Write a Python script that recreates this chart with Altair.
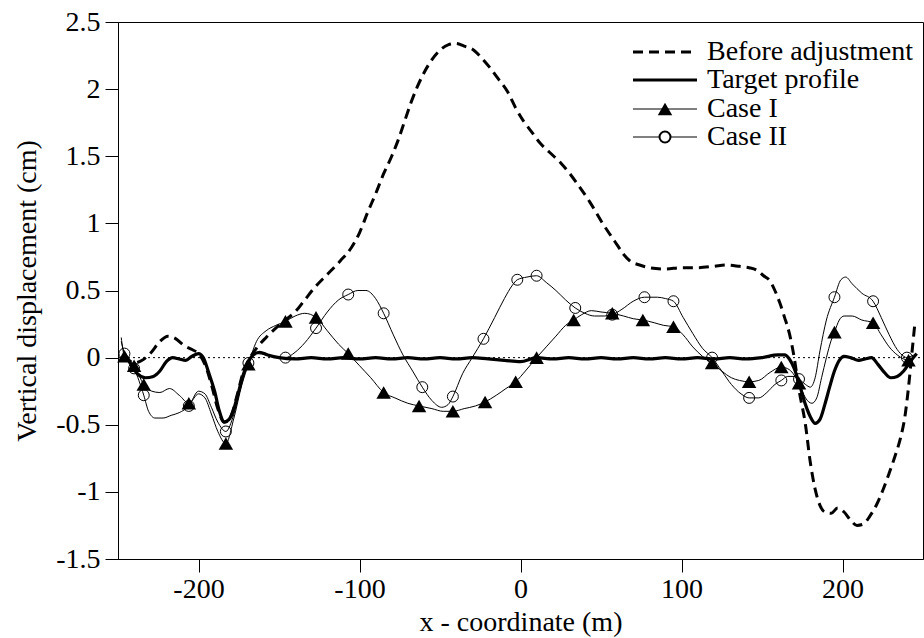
import altair as alt
import pandas as pd

# ---------------- data ----------------
before_x = [-246, -240, -235, -230, -224, -219, -214, -209, -204, -200, -196, -192, -188, -184, -180,
            -176, -172, -168, -164, -158, -152, -146, -140, -134, -128, -120, -112, -105, -100, -95,
            -90, -85, -80, -76, -72, -68, -64, -60, -55, -50, -45, -40, -35, -29, -24, -19, -14, -8,
            -3, 2, 7, 12, 18, 25, 30, 35, 43, 51, 56, 60, 64, 68, 74, 80, 90, 100, 110, 120, 128,
            136, 142, 147, 151, 155, 158, 161, 164, 167, 170, 173, 177, 180, 183, 186, 189, 193, 197,
            201, 205, 209, 213, 217, 221, 225, 229, 233, 236, 239, 241, 243, 245]
before_y = [0.02, -0.04, -0.02, 0.03, 0.12, 0.16, 0.14, 0.09, 0.06, 0.03, -0.05, -0.2, -0.38, -0.48, -0.44,
            -0.28, -0.1, 0.0, 0.07, 0.15, 0.22, 0.28, 0.34, 0.43, 0.52, 0.62, 0.72, 0.82, 0.93, 1.08,
            1.22, 1.37, 1.5, 1.62, 1.76, 1.9, 2.02, 2.12, 2.22, 2.29, 2.33, 2.34, 2.32, 2.29, 2.23, 2.16, 2.08, 1.98,
            1.86, 1.76, 1.68, 1.6, 1.53, 1.45, 1.38, 1.3, 1.16, 1.0, 0.91, 0.84, 0.77, 0.72, 0.69, 0.67, 0.66, 0.67, 0.67, 0.68, 0.69,
            0.68, 0.67, 0.65, 0.61, 0.57, 0.5, 0.41, 0.3, 0.18, 0.0, -0.24, -0.5, -0.78, -0.98, -1.1, -1.15, -1.16, -1.12,
            -1.15, -1.21, -1.25, -1.24, -1.18, -1.1, -0.99, -0.86, -0.72, -0.6, -0.42, -0.22, 0.02, 0.26]

target_x = [-246, -242, -238, -233, -228, -224, -220, -216, -212, -208, -204, -200, -197, -194, -190,
            -187, -184, -181, -178, -175, -172, -169, -166, -162, -157, -150, -140, -130, -120, -110,
            -100, -90, -80, -70, -60, -50, -40, -30, -20, -10, 0, 10, 20, 30, 40, 50, 60, 70, 80, 90,
            100, 110, 120, 130, 140, 150, 160, 164, 167, 170, 173, 177, 180, 183, 186, 189, 192, 195,
            198, 201, 205, 210, 214, 218, 222, 226, 230, 234, 238, 241, 244, 246]
target_y = [0.03, -0.05, -0.12, -0.15, -0.14, -0.1, -0.03, 0.0, -0.01, -0.02, 0.01, 0.03, 0.0, -0.1, -0.25,
            -0.4, -0.48, -0.46, -0.38, -0.25, -0.12, -0.03, 0.02, 0.04, 0.02, 0.0, -0.01, 0.0, -0.01, 0.0,
            -0.01, 0.0, -0.01, 0.0, -0.01, 0.0, -0.01, 0.0, -0.01, -0.02, -0.03, 0.0, -0.01, 0.0, -0.01, 0.0, -0.01, 0.0, -0.01, 0.0,
            -0.01, 0.0, -0.01, 0.0, -0.01, 0.0, 0.02, 0.02, -0.01, -0.08, -0.19, -0.35, -0.44, -0.49, -0.46, -0.35, -0.22, -0.1,
            -0.02, 0.01, 0.0, -0.02, -0.01, 0.0, -0.05, -0.11, -0.15, -0.14, -0.1, -0.05, 0.0, 0.03]

case1_x = [-248, -246, -240, -234, -229, -224, -218, -212, -206, -200, -196, -192, -188, -183, -178,
           -173, -169, -164, -158, -152, -146, -140, -134, -127, -120, -113, -107, -100, -93, -85,
           -78, -70, -63, -55, -48, -42, -35, -28, -22, -15, -9, -3, 3, 10, 16, 22, 28, 33, 38, 44,
           50, 57, 64, 70, 76, 83, 89, 95, 101, 107, 113, 119, 125, 131, 136, 142, 148, 155, 162,
           167, 170, 173, 177, 181, 184, 187, 190, 193, 195, 198, 201, 206, 212, 219, 224, 229, 234,
           238, 241, 244]
case1_y = [0.15, 0.01, -0.06, -0.2, -0.25, -0.26, -0.23, -0.28, -0.34, -0.27, -0.3, -0.42, -0.55, -0.64, -0.45,
           -0.2, -0.05, 0.12, 0.2, 0.24, 0.27, 0.31, 0.33, 0.3, 0.2, 0.1, 0.03, -0.06, -0.15, -0.26,
           -0.3, -0.34, -0.36, -0.38, -0.4, -0.4, -0.38, -0.36, -0.33, -0.28, -0.23, -0.18, -0.1, 0.0, 0.08, 0.16, 0.24, 0.28, 0.32, 0.35,
           0.34, 0.33, 0.31, 0.29, 0.28, 0.26, 0.24, 0.23, 0.17, 0.08, 0.01, -0.04, -0.1, -0.15, -0.17, -0.18, -0.17, -0.11, -0.07,
           -0.09, -0.13, -0.19, -0.3, -0.34, -0.3, -0.15, 0.0, 0.13, 0.19, 0.28, 0.31, 0.31, 0.28, 0.26, 0.17, 0.08, 0.02,
           -0.01, -0.02, 0.0]
case1_mx = [-246, -240, -234, -206, -183, -169, -146, -127, -107, -85, -63, -42, -22, -3, 10, 33, 57,
            76, 95, 119, 142, 162, 173, 195, 219, 241]
case1_my = [0.01, -0.06, -0.2, -0.34, -0.64, -0.05, 0.27, 0.3, 0.03, -0.26, -0.36, -0.4, -0.33, -0.18, 0.0,
            0.28, 0.33, 0.28, 0.23, -0.04, -0.18, -0.07, -0.19, 0.19, 0.26, -0.02]

case2_x = [-248, -246, -240, -234, -231, -227, -222, -217, -212, -206, -200, -196, -192, -188, -183,
           -178, -173, -169, -164, -158, -152, -146, -140, -134, -127, -120, -113, -107, -101, -96,
           -90, -85, -79, -73, -67, -61, -55, -49, -45, -42, -36, -30, -23, -16, -10, -5, -2, 4, 10,
           16, 22, 28, 34, 40, 46, 52, 57, 63, 70, 77, 85, 90, 95, 101, 107, 113, 119, 125, 131, 137,
           142, 148, 153, 158, 162, 166, 170, 173, 177, 180, 183, 186, 190, 195, 199, 202, 206, 212,
           219, 224, 229, 234, 238, 240, 244]
case2_y = [0.12, 0.03, -0.08, -0.28, -0.4, -0.45, -0.45, -0.43, -0.41, -0.36, -0.25, -0.27, -0.37, -0.48, -0.55,
           -0.42, -0.18, -0.04, 0.03, 0.02, 0.0, 0.0, 0.04, 0.11, 0.22, 0.34, 0.43, 0.47, 0.5, 0.5,
           0.44, 0.33, 0.17, 0.02, -0.1, -0.22, -0.32, -0.37, -0.35, -0.29, -0.12, 0.0, 0.14, 0.3, 0.44, 0.54, 0.58, 0.6, 0.61,
           0.56, 0.5, 0.43, 0.37, 0.33, 0.31, 0.31, 0.32, 0.36, 0.42, 0.45, 0.45, 0.44, 0.42, 0.3, 0.18, 0.07, 0.0, -0.1, -0.2, -0.27,
           -0.3, -0.3, -0.26, -0.2, -0.17, -0.14, -0.14, -0.16, -0.2, -0.22, -0.15, 0.05, 0.28, 0.45, 0.58, 0.6, 0.55, 0.48,
           0.42, 0.3, 0.17, 0.06, 0.01, 0.0, 0.02]
case2_mx = [-246, -240, -234, -206, -183, -169, -146, -127, -107, -85, -61, -42, -23, -2, 10, 34, 57,
            77, 95, 119, 142, 162, 173, 195, 219, 240]
case2_my = [0.03, -0.08, -0.28, -0.36, -0.55, -0.04, 0.0, 0.22, 0.47, 0.33, -0.22, -0.29, 0.14, 0.58, 0.61,
            0.37, 0.32, 0.45, 0.42, 0.0, -0.3, -0.17, -0.16, 0.45, 0.42, 0.0]

series_names = ["Before adjustment", "Target profile", "Case I", "Case II"]
x_ticks = [-200, -100, 0, 100, 200]
y_ticks = [-1.5, -1, -0.5, 0, 0.5, 1, 1.5, 2, 2.5]

# ---------------- chart ----------------
FONT = "Liberation Serif"
FS = 28

xs = alt.Scale(domain=[-250, 250], nice=False, zero=False)
ys = alt.Scale(domain=[-1.5, 2.5], nice=False, zero=False)

x_axis = alt.Axis(values=x_ticks, title="x - coordinate (m)", labelExpr="'' + datum.value",
                  titleY=63, titleBaseline="middle")
y_axis = alt.Axis(values=y_ticks, title="Vertical displacement (cm)", labelExpr="'' + datum.value",
                  titleX=-91, titleY=268.5, titleAngle=-90, titleBaseline="middle", titleAlign="center")

def enc(df_chart):
    return df_chart.encode(
        x=alt.X("x:Q", scale=xs, axis=x_axis),
        y=alt.Y("y:Q", scale=ys, axis=y_axis),
    )

df_before = pd.DataFrame({"x": before_x, "y": before_y})
df_target = pd.DataFrame({"x": target_x, "y": target_y})
df_c1 = pd.DataFrame({"x": case1_x, "y": case1_y})
df_c2 = pd.DataFrame({"x": case2_x, "y": case2_y})
df_c1m = pd.DataFrame({"x": case1_mx, "y": case1_my})
df_c2m = pd.DataFrame({"x": case2_mx, "y": case2_my})
df_zero = pd.DataFrame({"x": [-250, 250], "y": [0, 0]})

zero = enc(alt.Chart(df_zero).mark_line(color="black", strokeWidth=1, strokeDash=[2, 3]))
c1_line = enc(alt.Chart(df_c1).mark_line(color="black", strokeWidth=1, interpolate="monotone"))
c2_line = enc(alt.Chart(df_c2).mark_line(color="black", strokeWidth=1, interpolate="monotone"))
before = enc(alt.Chart(df_before).mark_line(color="black", strokeWidth=3, strokeDash=[10, 6],
                                            interpolate="monotone"))
target = enc(alt.Chart(df_target).mark_line(color="black", strokeWidth=3.2, interpolate="monotone"))
c1_pts = enc(alt.Chart(df_c1m).mark_point(shape="triangle-up", filled=True, color="black",
                                          size=210, opacity=1))
c2_pts = enc(alt.Chart(df_c2m).mark_point(shape="circle", filled=False, color="black",
                                          size=120, strokeWidth=1, opacity=1))

# manual legend
LX1, LX2, LM, LT = 515, 579, 547, 589
rows = [30, 58, 87, 115]
leg = [
    alt.Chart().mark_rule(color="black", strokeWidth=3, strokeDash=[10, 6]).encode(
        x=alt.value(LX1), x2=alt.value(LX2), y=alt.value(rows[0])),
    alt.Chart().mark_rule(color="black", strokeWidth=3.2).encode(
        x=alt.value(LX1), x2=alt.value(LX2), y=alt.value(rows[1])),
    alt.Chart().mark_rule(color="black", strokeWidth=1).encode(
        x=alt.value(LX1), x2=alt.value(LX2), y=alt.value(rows[2])),
    alt.Chart().mark_rule(color="black", strokeWidth=1).encode(
        x=alt.value(LX1), x2=alt.value(LX2), y=alt.value(rows[3])),
    alt.Chart().mark_point(shape="triangle-up", filled=True, color="black", size=210, opacity=1).encode(
        x=alt.value(LM), y=alt.value(rows[2])),
    alt.Chart().mark_point(shape="circle", filled=False, color="black", size=120, opacity=1,
                           fill="white").encode(
        x=alt.value(LM), y=alt.value(rows[3])),
]
for name, ry in zip(series_names, rows):
    leg.append(alt.Chart().mark_text(align="left", baseline="middle", font=FONT, fontSize=FS,
                                     color="black").encode(
        x=alt.value(LT), y=alt.value(ry), text=alt.value(name)))

chart = alt.layer(zero, c1_line, c2_line, before, target, c1_pts, c2_pts, *leg).properties(
    width=805, height=537,
    autosize=alt.AutoSizeParams(type="none"),
    padding={"left": 118, "top": 22, "right": 1, "bottom": 79},
    background="white",
).configure_view(
    stroke="black", strokeWidth=1
).configure_axis(
    grid=False, domainColor="black", domainWidth=1, tickColor="black", tickWidth=1, tickSize=13,
    labelFont=FONT, labelFontSize=FS, labelColor="black", titleFont=FONT, titleFontSize=FS,
    titleColor="black", titleFontWeight="normal", labelPadding=3,
).configure_axisY(labelPadding=5)

chart.save("out.html", embed_options={"renderer": "svg", "actions": False})
